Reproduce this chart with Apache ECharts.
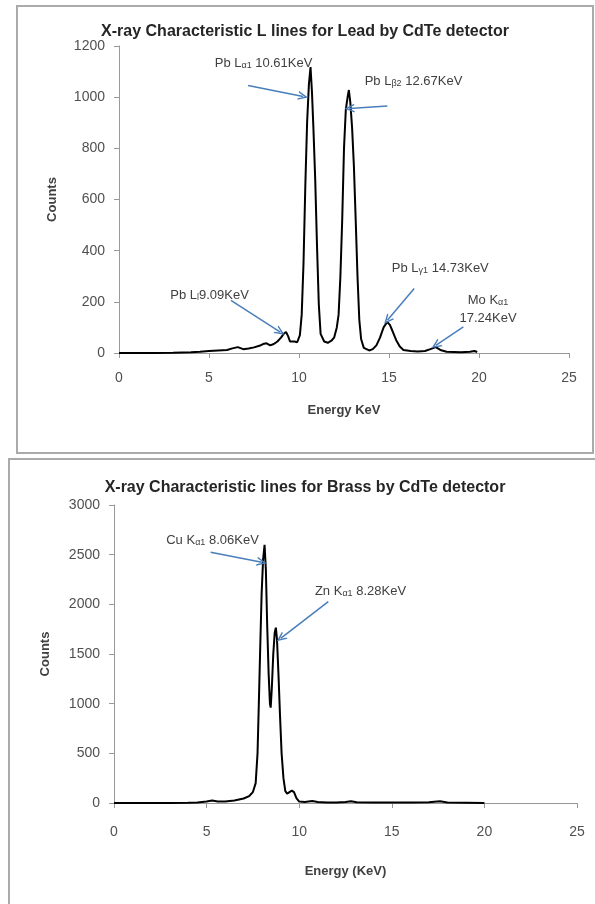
<!DOCTYPE html>
<html lang="en">
<head>
    <meta charset="UTF-8">
    <script type="text/javascript" src="https://cdn.jsdelivr.net/npm/echarts@6/dist/echarts.min.js"></script>
    <style>
        html, body { margin: 0; padding: 0; background: #fff; }
        #main { width: 595px; height: 904px; }
    </style>
</head>
<body>
    <div id="main"></div>

    <script type="text/javascript">
        // lead spectrum: [energy KeV, counts]
        var leadData = [
            [0,0],[1,0],[2,0],[3,1],[4,3],[4.5,5],[5,8],[5.5,10],[6,12],[6.3,18],[6.6,23],[6.9,15],
            [7.2,18],[7.5,22],[7.8,28],[8.0,35],[8.2,38],[8.4,30],[8.6,35],[8.8,45],[9.0,60],[9.15,75],
            [9.28,82],[9.4,65],[9.5,45],[9.6,38],[9.75,45],[9.9,42],[10.05,70],[10.15,150],[10.25,350],
            [10.35,650],[10.45,900],[10.55,1050],[10.64,1118],[10.72,1020],[10.8,880],[10.9,680],
            [11.0,420],[11.1,190],[11.2,75],[11.4,45],[11.6,40],[11.8,48],[11.95,60],[12.1,100],
            [12.2,150],[12.3,300],[12.4,520],[12.5,800],[12.6,950],[12.7,1000],[12.77,1028],[12.85,980],
            [12.95,880],[13.05,730],[13.15,520],[13.25,300],[13.35,130],[13.45,55],[13.6,20],[13.9,10],
            [14.1,15],[14.3,30],[14.5,60],[14.7,100],[14.9,121],[15.05,110],[15.2,85],[15.4,50],
            [15.6,25],[15.8,12],[16.2,8],[16.6,6],[17.0,8],[17.3,15],[17.6,23],[17.85,12],[18.2,5],
            [18.6,4],[19.0,3],[19.5,5],[19.75,8],[19.9,4]
        ];
        // brass spectrum
        var brassData = [
            [0,0],[1,0],[2,0],[3,0],[4,2],[4.5,5],[5,15],[5.3,25],[5.6,15],[6,15],[6.5,25],[7,45],
            [7.3,70],[7.5,110],[7.65,200],[7.75,500],[7.82,1000],[7.9,1600],[7.97,2100],[8.05,2450],
            [8.13,2600],[8.2,2350],[8.27,1800],[8.35,1300],[8.42,1000],[8.46,960],[8.52,1150],
            [8.6,1500],[8.68,1720],[8.74,1765],[8.8,1650],[8.88,1300],[8.96,900],[9.05,500],[9.15,250],
            [9.25,120],[9.35,95],[9.45,100],[9.6,125],[9.72,110],[9.85,50],[10,15],[10.3,10],[10.7,20],
            [11,10],[11.5,5],[12,5],[12.5,10],[12.8,18],[13.1,8],[14,5],[15,5],[16,5],[17,8],[17.6,18],
            [18,5],[19,3],[20,0]
        ];

        // annotation arrows: [fromX, fromY, toX, toY] in data units
        var leadArrows = [
            [7.17,1046,10.23,1003],
            [14.91,965,12.8,956],
            [6.22,206,8.96,82],
            [16.4,252,14.91,128],
            [19.13,102,17.6,30]
        ];
        var brassArrows = [
            [5.22,2524,7.98,2424],
            [11.57,2027,9.0,1658]
        ];
        // annotation labels: [x, y, text]
        var leadLabels = [
            [8.03,1133,'{a|Pb L}{s|α1}{a| 10.61KeV}'],
            [16.36,1063,'{a|Pb L}{s|β2}{a| 12.67KeV}'],
            [5.03,226,'{a|Pb L}{s|l}{a|9.09KeV}'],
            [17.85,332,'{a|Pb L}{s|γ1}{a| 14.73KeV}'],
            [20.5,206,'{a|Mo K}{s|α1}'],
            [20.5,134,'{a|17.24KeV}']
        ];
        var brassLabels = [
            [5.32,2648,'{a|Cu K}{s|α1}{a| 8.06KeV}'],
            [13.31,2135,'{a|Zn K}{s|α1}{a| 8.28KeV}']
        ];

        var energyTicks = [0,25,5];
        var leadTicks = [0,1200,200];
        var brassTicks = [0,3000,500];

        var font = 'Liberation Sans';
        var arrowHead = 'path://M0,10 L5,0 L10,10 L8.3,10 L5,3.5 L1.7,10 Z';

        function toMarkLine(arr) {
            return {
                silent: true,
                symbol: ['none', arrowHead],
                symbolSize: [9, 10],
                label: {show: false},
                lineStyle: {color: '#4a7ebb', width: 1.5, type: 'solid'},
                data: arr.map(function (a) {
                    return [{coord: [a[0], a[1]]}, {coord: [a[2], a[3]]}];
                })
            };
        }
        function toMarkPoint(arr) {
            return {
                silent: true,
                symbol: 'circle',
                symbolSize: 0,
                label: {
                    show: true,
                    position: 'inside',
                    rich: {
                        a: {fontSize: 13, color: '#404040', fontFamily: font},
                        s: {fontSize: 9, color: '#404040', fontFamily: font, padding: [5, 0, 0, 0]}
                    }
                },
                data: arr.map(function (a) {
                    return {coord: [a[0], a[1]], label: {formatter: a[2]}};
                })
            };
        }
        function xAx(idx, gap, name) {
            return {
                type: 'value', gridIndex: idx, min: energyTicks[0], max: energyTicks[1], interval: energyTicks[2],
                name: name, nameLocation: 'middle', nameGap: gap,
                nameTextStyle: {fontSize: 13, fontWeight: 'bold', color: '#404040', fontFamily: font},
                axisLine: {lineStyle: {color: '#999'}},
                axisTick: {lineStyle: {color: '#999'}, length: 5},
                axisLabel: {fontSize: 14, color: '#505050', margin: idx ? 22 : 18, fontFamily: font},
                splitLine: {show: false}
            };
        }
        function yAx(idx, t, gap) {
            return {
                type: 'value', gridIndex: idx, min: t[0], max: t[1], interval: t[2],
                name: 'Counts', nameLocation: 'middle', nameGap: gap,
                nameTextStyle: {fontSize: 13, fontWeight: 'bold', color: '#404040', fontFamily: font},
                axisLine: {show: true, lineStyle: {color: '#999'}},
                axisTick: {show: true, lineStyle: {color: '#999'}, length: 5},
                axisLabel: {fontSize: 14, color: '#505050', margin: 14, fontFamily: font,
                    formatter: function (v) { return String(v); }},
                splitLine: {show: false}
            };
        }

        var myChart = echarts.init(document.getElementById('main'));
        var option = {
            animation: false,
            backgroundColor: '#fff',
            graphic: [
                {type: 'rect', shape: {x: 17, y: 6, width: 576, height: 447},
                    style: {fill: 'none', stroke: '#aaa', lineWidth: 2}},
                {type: 'rect', shape: {x: 9, y: 459, width: 600, height: 460},
                    style: {fill: 'none', stroke: '#aaa', lineWidth: 2}},
                {type: 'text', x: 305, y: 32, style: {text: 'X-ray Characteristic L lines for Lead by CdTe detector',
                    textAlign: 'center', textVerticalAlign: 'middle', font: 'bold 16px ' + font, fill: '#262626'}},
                {type: 'text', x: 305, y: 488, style: {text: 'X-ray Characteristic lines for Brass by CdTe detector',
                    textAlign: 'center', textVerticalAlign: 'middle', font: 'bold 16px ' + font, fill: '#262626'}}
            ],
            grid: [
                {left: 119, top: 46, width: 450, height: 307},
                {left: 114, top: 505, width: 463, height: 298}
            ],
            xAxis: [xAx(0, 51, 'Energy KeV'), xAx(1, 62, 'Energy (KeV)')],
            yAxis: [yAx(0, leadTicks, 60), yAx(1, brassTicks, 62)],
            series: [
                {
                    type: 'line', xAxisIndex: 0, yAxisIndex: 0, data: leadData,
                    showSymbol: false, lineStyle: {color: '#000', width: 2}, itemStyle: {color: '#000'},
                    markLine: toMarkLine(leadArrows), markPoint: toMarkPoint(leadLabels)
                },
                {
                    type: 'line', xAxisIndex: 1, yAxisIndex: 1, data: brassData,
                    showSymbol: false, lineStyle: {color: '#000', width: 2}, itemStyle: {color: '#000'},
                    markLine: toMarkLine(brassArrows), markPoint: toMarkPoint(brassLabels)
                }
            ]
        };
        myChart.setOption(option);
    </script>
</body>
</html>
